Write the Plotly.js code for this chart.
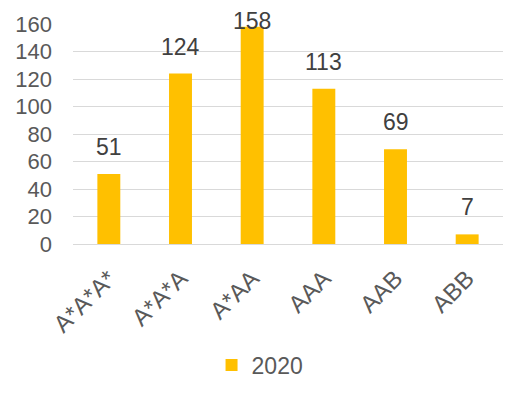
<!DOCTYPE html>
<html>
<head>
<meta charset="utf-8">
<script src="https://cdn.plot.ly/plotly-3.0.1.min.js"></script>
<style>html,body{margin:0;padding:0;background:#fff;}#chart{width:526px;height:397px;}</style>
</head>
<body>
<div id="chart"></div>
<script>
const categories = ["A*A*A*", "A*A*A", "A*AA", "AAA", "AAB", "ABB"];
const values2020 = [51, 124, 158, 113, 69, 7];
const seriesName = "2020";
const yTicks = [0, 20, 40, 60, 80, 100, 120, 140, 160];

const W = 526, H = 397;
const M = {l: 73, r: 23, t: 24, b: 152};
const yMax = 160;
const plotH = H - M.t - M.b;
const pxPerUnit = plotH / yMax;
const labelGap = 12;       // gap between bar top and label box
const labelBoxH = 30;      // approximate label box height
const minTopPx = 6;        // label box may not go above this paper pixel

const trace = {
  type: 'bar',
  x: categories,
  y: values2020,
  name: seriesName,
  marker: {color: '#FFC000'},
  hoverinfo: 'none'
};

const annotations = categories.map((c, i) => {
  const v = values2020[i];
  const barTopPx = M.t + (yMax - v) * pxPerUnit;
  const maxShift = barTopPx - minTopPx - labelBoxH;
  return {
    x: c, y: v, xref: 'x', yref: 'y',
    text: String(v), showarrow: false,
    yanchor: 'bottom', xanchor: 'center',
    yshift: Math.min(labelGap, maxShift),
    font: {family: 'Liberation Sans, Arial, sans-serif', size: 23, color: '#404040'}
  };
});

const layout = {
  width: W, height: H,
  margin: M,
  paper_bgcolor: '#fff', plot_bgcolor: '#fff',
  bargap: 0.68,
  font: {family: 'Liberation Sans, Arial, sans-serif', size: 22, color: '#595959'},
  xaxis: {
    tickangle: -45,
    showline: true, linecolor: '#D9D9D9', linewidth: 1,
    ticks: '', showgrid: false, zeroline: false,
    ticklabelstandoff: 10,
    tickfont: {size: 24, color: '#595959'}
  },
  yaxis: {
    range: [0, yMax], tickvals: yTicks, ticktext: yTicks.map(String),
    showgrid: true, gridcolor: '#D9D9D9', gridwidth: 1,
    zeroline: false, showline: false, ticks: '',
    ticklabelstandoff: 20,
    tickfont: {size: 22, color: '#595959'}
  },
  annotations: annotations,
  showlegend: true,
  legend: {orientation: 'h', x: 0.435, xanchor: 'center', y: -0.543, yanchor: 'middle',
           font: {size: 23, color: '#595959'}}
};

Plotly.newPlot('chart', [trace], layout, {displayModeBar: false, staticPlot: true});
</script>
</body>
</html>
